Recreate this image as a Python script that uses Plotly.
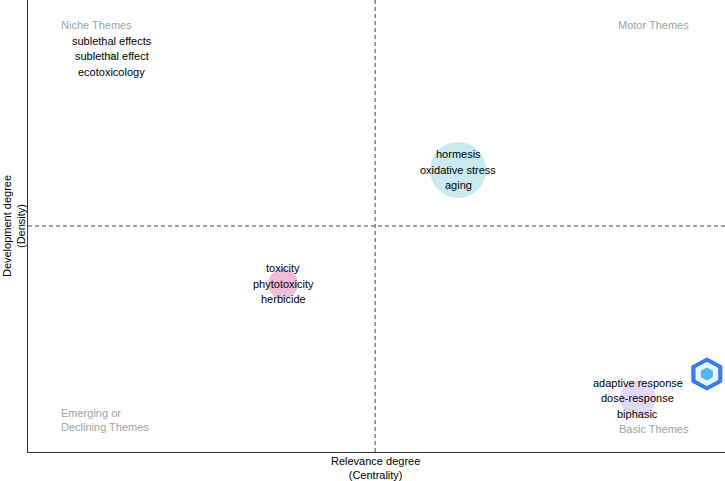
import plotly.graph_objects as go

# Cluster data (thematic map)
clusters = ["sublethal effects", "hormesis", "toxicity", "adaptive response"]
labels = [
    ["sublethal effects", "sublethal effect", "ecotoxicology"],
    ["hormesis", "oxidative stress", "aging"],
    ["toxicity", "phytotoxicity", "herbicide"],
    ["adaptive response", "dose-response", "biphasic"],
]
centrality = [0.120, 0.617, 0.366, 0.875]
density = [0.876, 0.624, 0.372, 0.119]
bubble_size = [7, 56, 30, 36]
colors = ["rgba(140,210,130,0.8)", "rgba(170,222,232,0.9)",
          "rgba(230,145,190,0.85)", "rgba(205,188,240,0.85)"]
x_mid = 0.498
y_mid = 0.5

fig = go.Figure()
fig.add_trace(go.Scatter(
    x=centrality, y=density, mode="markers",
    marker=dict(size=bubble_size, color=colors, line=dict(width=0)),
    hovertext=clusters, showlegend=False))

font_family = "Liberation Sans, Arial, sans-serif"
for cx, cy, labs in zip(centrality, density, labels):
    for i, lab in enumerate(labs):
        fig.add_annotation(x=cx, y=cy, text=lab, showarrow=False,
                           yshift=(1 - i) * 15.5,
                           font=dict(family=font_family, size=11, color="black"))

quad = dict(family=font_family, size=11, color="#9aa5a6")
fig.add_annotation(x=0.044, y=0.945, xref="paper", yref="paper", text="Niche Themes",
                   showarrow=False, xanchor="left", yanchor="middle", font=quad)
fig.add_annotation(x=0.951, y=0.945, xref="paper", yref="paper", text="Motor Themes",
                   showarrow=False, xanchor="right", yanchor="middle", font=quad)
fig.add_annotation(x=0.044, y=0.0697, xref="paper", yref="paper",
                   text="Emerging or<br>Declining Themes", align="left",
                   showarrow=False, xanchor="left", yanchor="middle", font=quad)
fig.add_annotation(x=0.951, y=0.051, xref="paper", yref="paper", text="Basic Themes",
                   showarrow=False, xanchor="right", yanchor="middle", font=quad)

# axis titles
fig.add_annotation(x=0.498, y=-0.002, xref="paper", yref="paper",
                   text="Relevance degree<br>(Centrality)", showarrow=False,
                   yanchor="top", font=dict(family=font_family, size=11, color="black"))
fig.add_annotation(x=-0.020, y=0.5, xref="paper", yref="paper",
                   text="Development degree<br>(Density)", showarrow=False,
                   textangle=-90, xanchor="center", yanchor="middle",
                   font=dict(family=font_family, size=11, color="black"))

# dashed quadrant lines
fig.add_shape(type="line", x0=x_mid, x1=x_mid, y0=0, y1=1, yref="paper",
              line=dict(color="#444444", width=1, dash="4px,3px"))
fig.add_shape(type="line", x0=0, x1=1, xref="paper", y0=y_mid, y1=y_mid,
              line=dict(color="#444444", width=1, dash="4px,3px"))

# small hexagon logo
cxl, cyl, hw, hh = 0.974, 0.1726, 0.0215, 0.0354
def hexpath(s):
    w, h = hw * s, hh * s
    pts = [(cxl, cyl + h), (cxl + w, cyl + h / 2), (cxl + w, cyl - h / 2),
           (cxl, cyl - h), (cxl - w, cyl - h / 2), (cxl - w, cyl + h / 2)]
    return "M " + " L ".join(f"{x:.4f} {y:.4f}" for x, y in pts) + " Z"
fig.add_shape(type="path", xref="paper", yref="paper", path=hexpath(1.0),
              fillcolor="#3a7df0", line=dict(color="#2f6fe6", width=1))
fig.add_shape(type="path", xref="paper", yref="paper", path=hexpath(0.72),
              fillcolor="#e8f6ff", line=dict(color="white", width=1))
fig.add_shape(type="path", xref="paper", yref="paper", path=hexpath(0.4),
              fillcolor="#4fb6f5", line=dict(width=0))

fig.update_xaxes(range=[0, 1], showgrid=False, zeroline=False, showticklabels=False,
                 ticks="", showline=True, linecolor="#333333", linewidth=1.2)
fig.update_yaxes(range=[0, 1], showgrid=False, zeroline=False, showticklabels=False,
                 ticks="", showline=True, linecolor="#333333", linewidth=1.2)

fig.update_layout(width=725, height=481, plot_bgcolor="white", paper_bgcolor="white",
                  margin=dict(l=28, r=0, t=0, b=29), showlegend=False,
                  font=dict(family=font_family))
fig.write_html("out.html", config={"displayModeBar": False},
               post_script="document.body.style.margin='0';document.body.style.padding='0';")
